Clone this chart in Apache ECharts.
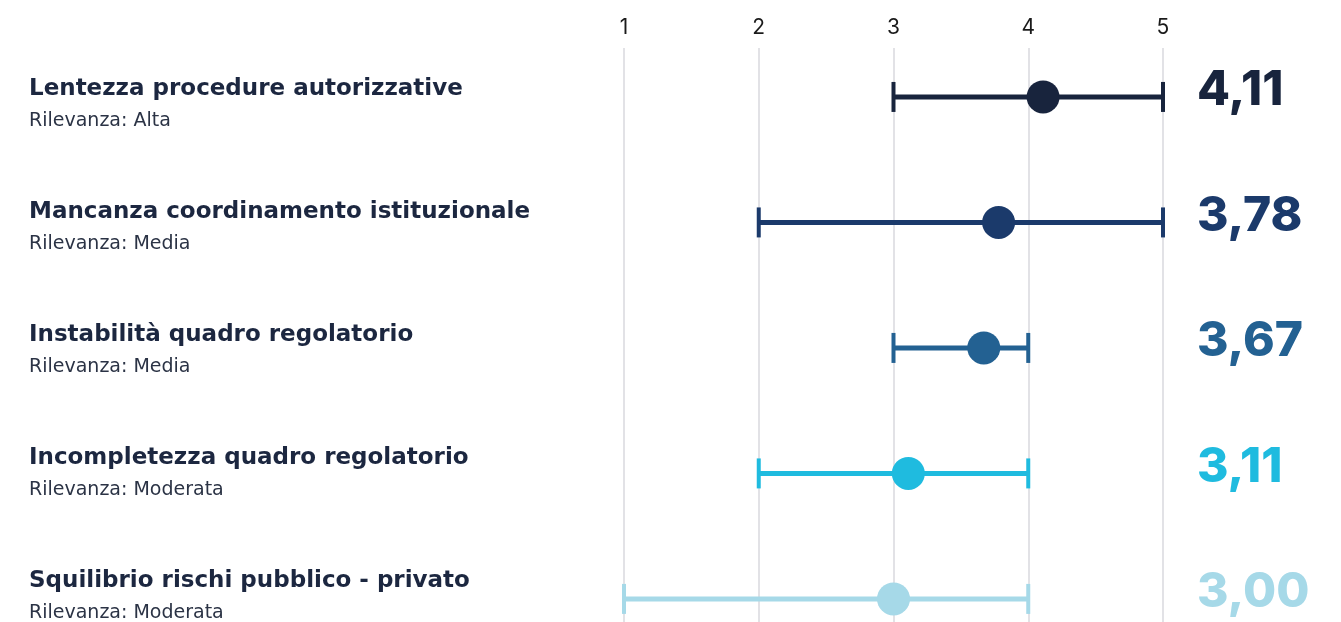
<!DOCTYPE html>
<html>
<head>
<meta charset="utf-8">
<script src="https://cdn.jsdelivr.net/npm/echarts@6/dist/echarts.min.js"></script>
<style>html,body{margin:0;padding:0;background:#fff}#c{width:1341px;height:622px}</style>
</head>
<body>
<div id="c"></div>
<script>
const categories = ['Lentezza procedure autorizzative','Mancanza coordinamento istituzionale','Instabilità quadro regolatorio','Incompletezza quadro regolatorio','Squilibrio rischi pubblico - privato'];
const relevance = ['Alta','Media','Media','Moderata','Moderata'];
const means = [4.11, 3.78, 3.67, 3.11, 3.00];
const lows = [3, 2, 3, 2, 1];
const highs = [5, 5, 4, 4, 4];
const colors = ['#18243d', '#1b3a6b', '#236192', '#1fbbdf', '#a6d9e8'];
const ticks = [1, 2, 3, 4, 5];

const FONT = 'Inter, "Noto Sans", sans-serif';
const LFONT = '"DejaVu Sans", sans-serif';
const chart = echarts.init(document.getElementById('c'));
const data = categories.map((c, i) => [i, lows[i], means[i], highs[i]]);

chart.setOption({
  animation: false,
  grid: {left: 624, right: 178, top: 48, bottom: 0},
  xAxis: {type: 'value', position: 'top', min: ticks[0], max: ticks[ticks.length-1], interval: 1,
     axisLine: {show: false}, axisTick: {show: false},
     axisLabel: {color: '#1a1a1a', fontSize: 21, fontFamily: FONT, margin: 10},
     splitLine: {show: true, lineStyle: {color: '#d9d9de', width: 1.5}}},
  yAxis: {type: 'value', inverse: true, min: -0.39, max: 4.184, show: false},
  series: [{
    type: 'custom',
    clip: false,
    encode: {y: 0, x: [1, 2, 3]},
    data: data,
    renderItem: (params, api) => {
      const idx = api.value(0);
      const lo = api.coord([api.value(1), idx]);
      const mn = api.coord([api.value(2), idx]);
      const hi = api.coord([api.value(3), idx]);
      const endX = api.coord([ticks[ticks.length-1], idx])[0];
      const leftX = params.coordSys.x - 595;
      const labelShift = idx * 2.5;
      const col = colors[idx];
      const capH = 15;
      return {type: 'group', children: [
        {type: 'line', shape: {x1: lo[0], y1: lo[1], x2: hi[0], y2: hi[1]}, style: {stroke: col, lineWidth: 5}},
        {type: 'line', shape: {x1: lo[0], y1: lo[1]-capH, x2: lo[0], y2: lo[1]+capH}, style: {stroke: col, lineWidth: 4}},
        {type: 'line', shape: {x1: hi[0], y1: hi[1]-capH, x2: hi[0], y2: hi[1]+capH}, style: {stroke: col, lineWidth: 4}},
        {type: 'circle', shape: {cx: mn[0], cy: mn[1], r: 16.5}, style: {fill: col}},
        {type: 'text', x: endX + 34, y: mn[1] - 6, style: {
          text: means[idx].toFixed(2).replace('.', ','), fill: col,
          fontFamily: 'Inter', fontWeight: 800, fontSize: 48,
          verticalAlign: 'middle', align: 'left'}},
        {type: 'text', x: leftX, y: mn[1] - 7.5 - labelShift, style: {
          text: categories[idx], fill: '#1c2740',
          fontFamily: LFONT, fontWeight: 'bold', fontSize: 23,
          verticalAlign: 'middle', align: 'left'}},
        {type: 'text', x: leftX, y: mn[1] + 24 - labelShift, style: {
          text: 'Rilevanza: ' + relevance[idx], fill: '#2b3345',
          fontFamily: LFONT, fontSize: 19,
          verticalAlign: 'middle', align: 'left'}}
      ]};
    }
  }]
});
</script>
</body>
</html>
